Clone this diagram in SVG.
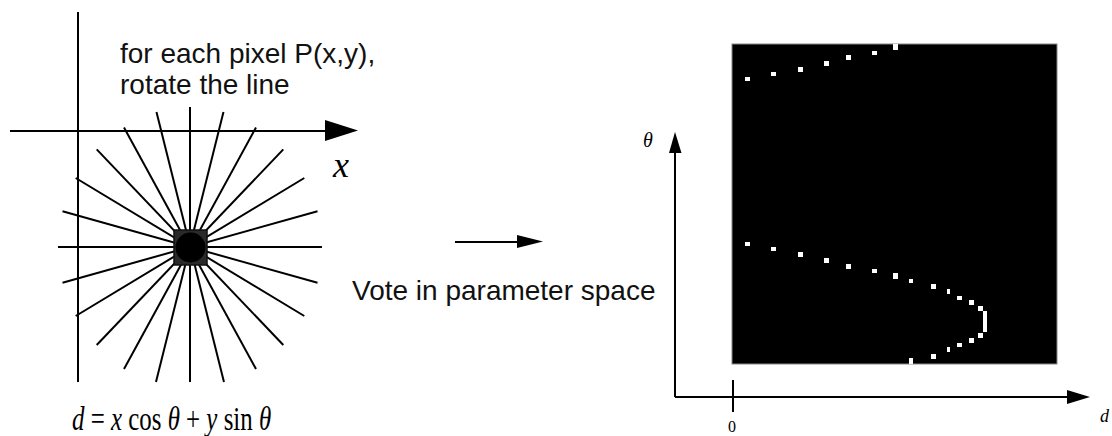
<svg xmlns="http://www.w3.org/2000/svg" width="1112" height="436" viewBox="0 0 1112 436">
<style>
.ln{stroke:#000;stroke-width:2;fill:none}
.sans{font-family:"Liberation Sans",Arial,sans-serif;font-size:28px;fill:#111}
.ser{font-family:"Liberation Serif","Times New Roman",serif;fill:#000}
.dot{fill:#fff}
</style>
<rect width="1112" height="436" fill="#fff"/>

<g id="image-space">
<line class="ln" x1="78" y1="12" x2="78" y2="382"/>
<line class="ln" x1="10" y1="131" x2="330" y2="131"/>
<path d="M325,120 L358,130.5 L325,141 Z" fill="#000"/>
<text class="ser" x="333" y="177" font-size="36" font-style="italic">x</text>
</g>

<g id="rotating-lines">
<line class="ln" x1="322" y1="247" x2="58" y2="247"/>
<line class="ln" x1="317.5" y1="211.3" x2="62.5" y2="282.7"/>
<line class="ln" x1="304.3" y1="178" x2="75.7" y2="316"/>
<line class="ln" x1="283.3" y1="149.4" x2="96.7" y2="345"/>
<line class="ln" x1="256" y1="127.5" x2="124" y2="369"/>
<line class="ln" x1="223.5" y1="112" x2="156" y2="382"/>
<line class="ln" x1="190" y1="107" x2="190" y2="382"/>
<line class="ln" x1="156.5" y1="112" x2="224" y2="382"/>
<line class="ln" x1="124" y1="127.5" x2="256" y2="369"/>
<line class="ln" x1="96.7" y1="149.4" x2="283.3" y2="345"/>
<line class="ln" x1="75.7" y1="178" x2="304.3" y2="316"/>
<line class="ln" x1="62.5" y1="211.3" x2="317.5" y2="282.7"/>
</g>

<g id="pixel">
<rect x="174" y="230" width="33" height="35" fill="#2a2a2a" stroke="#111" stroke-width="1.5"/>
<circle cx="190.5" cy="247.5" r="15" fill="#000"/>
</g>

<g id="caption">
<text class="sans" x="120" y="63" font-size="27">for each pixel P(x,y),</text>
<text class="sans" x="120" y="94" font-size="27">rotate the line</text>
</g>

<g id="formula">
<text class="ser" font-size="30" transform="translate(72,430) scale(0.83,1.12)"><tspan font-style="italic">d</tspan> = <tspan font-style="italic">x</tspan> cos <tspan font-style="italic">θ</tspan> + <tspan font-style="italic">y</tspan> sin <tspan font-style="italic">θ</tspan></text>
</g>

<g id="connectors">
<line class="ln" x1="455" y1="242" x2="520" y2="242"/>
<path d="M517,235 L543,241.5 L517,248 Z" fill="#000"/>
</g>

<g id="vote-label">
<text class="sans" x="352" y="300">Vote in parameter space</text>
</g>

<g id="parameter-axes">
<line class="ln" x1="675" y1="150" x2="675" y2="397"/>
<path d="M669,153 L675,132 L681.5,153 Z" fill="#000"/>
<line class="ln" x1="675" y1="397" x2="1070" y2="397"/>
<path d="M1067,390 L1090,397 L1067,404 Z" fill="#000"/>
<line class="ln" x1="733" y1="380" x2="733" y2="412"/>
<text class="ser" x="643" y="147" font-size="20" font-style="italic">θ</text>
<text class="ser" x="732" y="432" font-size="16" text-anchor="middle">0</text>
<text class="ser" x="1100" y="422" font-size="18" font-style="italic">d</text>
</g>

<g id="accumulator">
<rect x="732" y="44" width="325" height="320" fill="#000" stroke="#888" stroke-width="1"/>
<g class="dot">
<rect x="745" y="77" width="5" height="4"/>
<rect x="771" y="72" width="5" height="4"/>
<rect x="798" y="67" width="5" height="5"/>
<rect x="824" y="61" width="5" height="5"/>
<rect x="846" y="55" width="5" height="5"/>
<rect x="872" y="51" width="5" height="4"/>
<rect x="893" y="44" width="5" height="6"/>

<rect x="745" y="242" width="5" height="4"/>
<rect x="771" y="247" width="5" height="4"/>
<rect x="798" y="252" width="5" height="5"/>
<rect x="824" y="258" width="5" height="5"/>
<rect x="846" y="264" width="5" height="5"/>
<rect x="872" y="269" width="5" height="4"/>
<rect x="893" y="273" width="5" height="6"/>
<rect x="909" y="279" width="4" height="4"/>
<rect x="931" y="284" width="5" height="5"/>
<rect x="947" y="289" width="3" height="5"/>
<rect x="957" y="296" width="5" height="4"/>
<rect x="969" y="300" width="5" height="5"/>
<rect x="978" y="306" width="5" height="5"/>
<rect x="983" y="311" width="4" height="21"/>
<rect x="978" y="333" width="5" height="5"/>
<rect x="969" y="338" width="5" height="5"/>
<rect x="957" y="343" width="5" height="4"/>
<rect x="947" y="347" width="3" height="5"/>
<rect x="931" y="354" width="5" height="5"/>
<rect x="909" y="358" width="4" height="6"/>
</g>
</g>
</svg>
